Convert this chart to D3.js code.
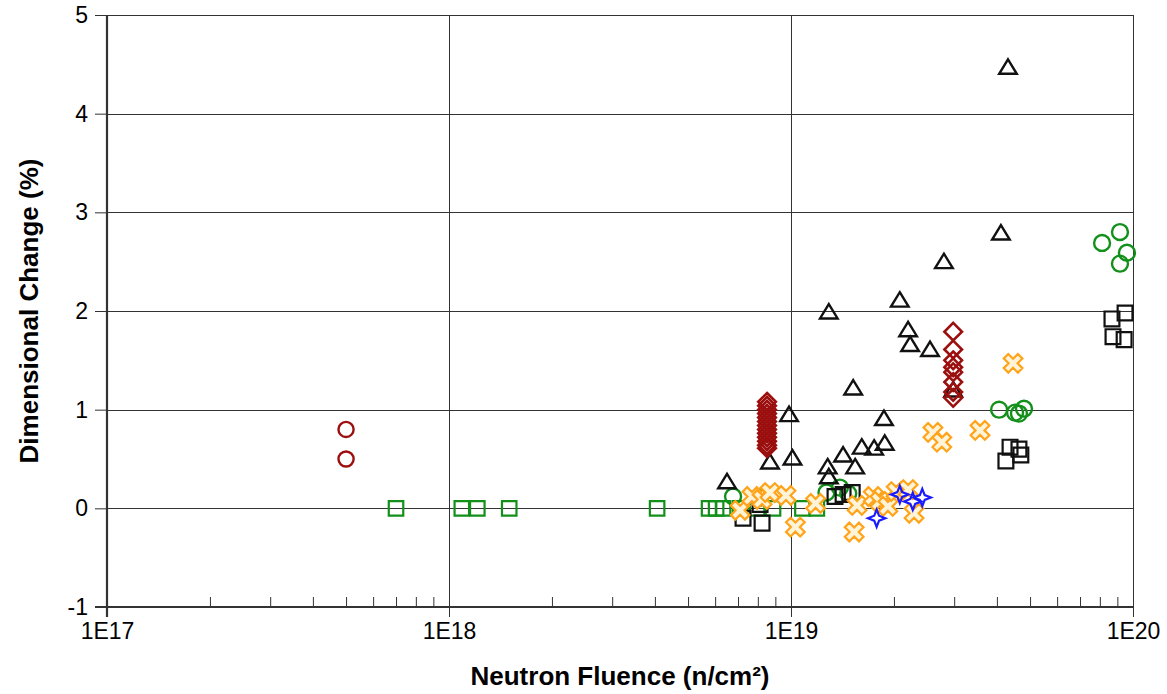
<!DOCTYPE html>
<html>
<head>
<meta charset="utf-8">
<script src="https://cdn.jsdelivr.net/npm/d3@7"></script>
<style>
  html, body { margin: 0; padding: 0; background: #fff; }
  svg { display: block; }
  text { font-family: "Liberation Sans", Arial, sans-serif; fill: #000; }
</style>
</head>
<body>
<svg id="chart" width="1167" height="694"></svg>
<script>
// Axis extents and tick labels
const xDomain = [1e17, 1e20];
const yDomain = [-1, 5];
const xMajorTicks = [1e17, 1e18, 1e19, 1e20];
const xTickLabels = ["1E17", "1E18", "1E19", "1E20"];
const yTicks = [-1, 0, 1, 2, 3, 4, 5];

// Series: green open squares
const greenSqX = [7.0e17, 1.09e18, 1.21e18, 1.50e18, 4.06e18, 5.76e18, 6.04e18, 6.33e18, 7.10e18, 7.96e18, 8.86e18, 1.08e19, 1.19e19];
const greenSqY = [0, 0, 0, 0, 0, 0, 0, 0, 0, 0, 0, 0, 0];

// Series: dark red open circles
const redCircX = [5e17, 5e17];
const redCircY = [0.80, 0.50];

// Series: green open circles
const greenCircX = [6.77e18, 8.12e18, 1.27e19, 1.39e19, 1.47e19, 4.06e19, 4.52e19, 4.64e19, 4.80e19, 8.12e19, 9.16e19, 9.60e19, 9.16e19];
const greenCircY = [0.12, 0.11, 0.16, 0.21, 0.15, 1.00, 0.97, 0.96, 1.01, 2.69, 2.80, 2.59, 2.48];

// Series: black open squares
const blackSqX = [7.24e18, 8.12e18, 8.23e18, 1.345e19, 1.42e19, 1.51e19, 4.25e19, 4.37e19, 4.64e19, 4.70e19, 8.68e19, 9.48e19, 8.74e19, 9.42e19];
const blackSqY = [-0.10, 0.04, -0.15, 0.12, 0.14, 0.16, 0.48, 0.62, 0.60, 0.54, 1.92, 1.98, 1.74, 1.71];

// Series: orange crosses
const orangeX = [7.10e18, 7.69e18, 8.23e18, 8.68e18, 9.67e18, 1.03e19, 1.18e19, 1.53e19, 1.56e19, 1.74e19, 1.82e19, 1.92e19, 2.03e19, 2.20e19, 2.29e19, 2.60e19, 2.76e19, 3.57e19, 4.46e19];
const orangeY = [-0.02, 0.12, 0.09, 0.16, 0.13, -0.19, 0.05, -0.24, 0.03, 0.12, 0.07, 0.02, 0.17, 0.19, -0.05, 0.77, 0.67, 0.79, 1.47];

// Series: blue four-point stars
const blueX = [1.78e19, 2.08e19, 2.27e19, 2.42e19];
const blueY = [-0.10, 0.14, 0.07, 0.11];

// Series: black open triangles
const triX = [4.31e19, 4.11e19, 2.80e19, 2.08e19, 1.29e19, 2.20e19, 2.23e19, 2.55e19, 1.52e19, 2.98e19, 9.87e18, 1.87e19, 1.61e19, 1.75e19, 1.88e19, 8.68e18, 1.01e19, 1.28e19, 1.29e19, 1.42e19, 1.54e19, 6.50e18];
const triY = [4.47, 2.79, 2.50, 2.11, 1.99, 1.81, 1.66, 1.61, 1.22, 1.20, 0.95, 0.91, 0.62, 0.61, 0.66, 0.47, 0.51, 0.42, 0.32, 0.54, 0.42, 0.27];

// Series: dark red open diamonds
const diaX = [8.51e18, 8.51e18, 8.51e18, 8.51e18, 8.51e18, 8.51e18, 8.51e18, 8.51e18, 8.51e18, 8.51e18, 8.51e18, 8.51e18, 8.51e18,
              2.98e19, 2.98e19, 2.98e19, 2.98e19, 2.98e19, 2.98e19, 2.98e19, 2.98e19];
const diaY = [1.08, 1.04, 1.00, 0.96, 0.92, 0.88, 0.84, 0.80, 0.76, 0.72, 0.68, 0.64, 0.61,
              1.79, 1.61, 1.50, 1.43, 1.38, 1.28, 1.18, 1.12];

const svg = d3.select("#chart");
const W = 1167, H = 694;
const plotL = 107, plotR = 1133, plotT = 15, plotB = 607;

const x = d3.scaleLog().domain(xDomain).range([plotL, plotR]);
const y = d3.scaleLinear().domain(yDomain).range([plotB, plotT]);

svg.append("rect").attr("width", W).attr("height", H).attr("fill", "#fff");

// Gridlines
const grid = svg.append("g").attr("stroke", "#333").attr("stroke-width", 1).attr("shape-rendering", "crispEdges");
grid.selectAll("line.h").data(yTicks).join("line")
  .attr("x1", plotL).attr("x2", plotR)
  .attr("y1", d => Math.round(y(d)) + 0.5).attr("y2", d => Math.round(y(d)) + 0.5);
grid.selectAll("line.v").data(xMajorTicks.slice(1)).join("line")
  .attr("x1", d => Math.round(x(d)) + 0.5).attr("x2", d => Math.round(x(d)) + 0.5)
  .attr("y1", plotT).attr("y2", plotB);

// Y axis
const yAxis = d3.axisLeft(y).tickValues(yTicks).tickSize(12).tickPadding(7).tickFormat(d => String(d));
const gy = svg.append("g").attr("transform", `translate(${plotL},0)`).call(yAxis);
gy.select(".domain").remove();
gy.selectAll(".tick line").attr("stroke", "#333").attr("stroke-width", 1);
gy.selectAll(".tick text").attr("font-size", 23).attr("font-family", "Liberation Sans, Arial, sans-serif");

// X axis: major ticks downward with labels, minor ticks upward
const xAxis = d3.axisBottom(x).tickValues(xMajorTicks).tickSize(10).tickPadding(6)
  .tickFormat((d, i) => xTickLabels[i]);
const gx = svg.append("g").attr("transform", `translate(0,${plotB})`).call(xAxis);
gx.select(".domain").remove();
gx.selectAll(".tick line").attr("stroke", "#333").attr("stroke-width", 1);
gx.selectAll(".tick text").attr("font-size", 23).attr("font-family", "Liberation Sans, Arial, sans-serif");

const minorTicks = [];
for (let e = 17; e < 20; e++) for (let m = 2; m <= 9; m++) minorTicks.push(m * Math.pow(10, e));
const gxm = svg.append("g").attr("transform", `translate(0,${plotB})`)
  .call(d3.axisTop(x).tickValues(minorTicks).tickSize(10).tickFormat(""));
gxm.select(".domain").remove();
gxm.selectAll(".tick line").attr("stroke", "#333").attr("stroke-width", 1);

// Axis lines
svg.append("line").attr("x1", plotL).attr("x2", plotL).attr("y1", plotT).attr("y2", plotB + 10)
  .attr("stroke", "#333").attr("stroke-width", 2.2);
svg.append("line").attr("x1", plotL - 12).attr("x2", plotR).attr("y1", plotB).attr("y2", plotB)
  .attr("stroke", "#333").attr("stroke-width", 2.2);

// Axis titles
svg.append("text").attr("x", (plotL + plotR) / 2).attr("y", 685)
  .attr("text-anchor", "middle").attr("font-weight", "bold").attr("font-size", 26)
  .text("Neutron Fluence (n/cm²)");
svg.append("text").attr("transform", `translate(38,${(plotT + plotB) / 2}) rotate(-90)`)
  .attr("text-anchor", "middle").attr("font-weight", "bold").attr("font-size", 26)
  .text("Dimensional Change (%)");

// Custom marker shapes
const symDiamond = { draw(ctx, size) { const r = Math.sqrt(size) / 2;
  ctx.moveTo(0, -r); ctx.lineTo(r, 0); ctx.lineTo(0, r); ctx.lineTo(-r, 0); ctx.closePath(); } };
const symStar4 = { draw(ctx, size) { const r = Math.sqrt(size) / 2, k = r * 0.28;
  ctx.moveTo(0, -r); ctx.lineTo(k, -k); ctx.lineTo(r, 0); ctx.lineTo(k, k);
  ctx.lineTo(0, r); ctx.lineTo(-k, k); ctx.lineTo(-r, 0); ctx.lineTo(-k, -k); ctx.closePath(); } };
const symX = { draw(ctx, size) { const a = Math.sqrt(size) / 2, w = a * 0.32, s = Math.SQRT1_2;
  // plus shape with arms of half-width w and reach a, rotated 45 degrees
  const pts = [[-w, -a], [w, -a], [w, -w], [a, -w], [a, w], [w, w], [w, a], [-w, a], [-w, w], [-a, w], [-a, -w], [-w, -w]];
  pts.forEach(([px, py], i) => { const rx = (px - py) * s, ry = (px + py) * s;
    if (i === 0) ctx.moveTo(rx, ry); else ctx.lineTo(rx, ry); });
  ctx.closePath(); } };
const symTri = { draw(ctx, size) { const w = Math.sqrt(size), h = w * 0.82;
  ctx.moveTo(0, -h * 0.55); ctx.lineTo(w / 2, h * 0.45); ctx.lineTo(-w / 2, h * 0.45); ctx.closePath(); } };

function drawSeries(xs, ys, type, size, stroke, sw, fill) {
  const pts = xs.map((v, i) => [v, ys[i]]);
  svg.append("g").selectAll("path").data(pts).join("path")
    .attr("transform", d => `translate(${x(d[0])},${y(d[1])})`)
    .attr("d", d3.symbol().type(type).size(size))
    .attr("fill", fill).attr("stroke", stroke).attr("stroke-width", sw);
}

drawSeries(greenSqX, greenSqY, d3.symbolSquare, 210, "#12901a", 2.2, "none");
drawSeries(redCircX, redCircY, d3.symbolCircle, 180, "#9b0f0f", 2.4, "none");
drawSeries(greenCircX, greenCircY, d3.symbolCircle, 200, "#12901a", 2.4, "none");
drawSeries(blackSqX, blackSqY, d3.symbolSquare, 220, "#111", 2.2, "none");
drawSeries(orangeX, orangeY, symX, 400, "#ffa41a", 2.2, "#fff3d8");
drawSeries(blueX, blueY, symStar4, 300, "#1a1aff", 2.2, "none");
drawSeries(triX, triY, symTri, 310, "#111", 2.4, "none");
drawSeries(diaX, diaY, symDiamond, 310, "#9b0f0f", 2.6, "none");
</script>
</body>
</html>
